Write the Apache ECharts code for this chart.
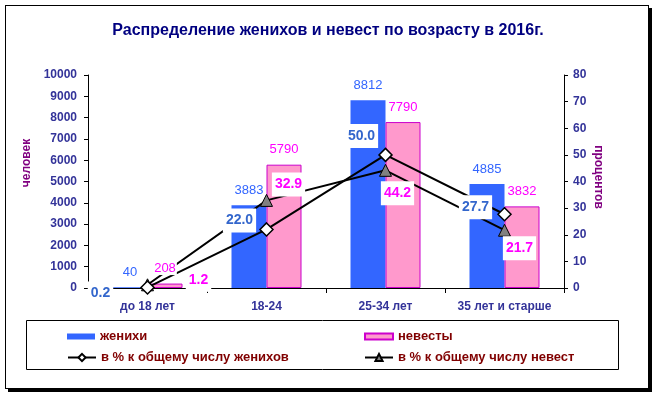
<!DOCTYPE html>
<html>
<head>
<meta charset="utf-8">
<script src="https://cdn.jsdelivr.net/npm/echarts@6/dist/echarts.min.js"></script>
<style>
html,body{margin:0;padding:0;background:#fff;}
#frame{position:absolute;left:5px;top:5px;width:642px;height:382px;border:1px solid #000;box-shadow:3px 3px 0 #000;background:#fff;}
#chart{position:absolute;left:0;top:0;width:656px;height:395px;}
</style>
</head>
<body>
<div id="frame"></div>
<div id="chart"></div>
<script>
var categories = ['до 18 лет', '18-24', '25-34 лет', '35 лет и старше'];
var grooms = [40, 3883, 8812, 4885];
var brides = [208, 5790, 7790, 3832];
var groomsPct = [0.2, 22.0, 50.0, 27.7];
var bridesPct = [1.2, 32.9, 44.2, 21.7];
var leftTicks = {min: 0, max: 10000, interval: 1000};
var rightTicks = {min: 0, max: 80, interval: 10};

// label offsets (style only)
var groomsLabelOffset = [[-47, 6], [-27, -9], [-24, -19], [-29, -7]];
var bridesLabelOffset = [[51, -5], [22, -16], [12, 23], [15, 18]];

var FONT = "'Liberation Sans', Arial, sans-serif";
var chart = echarts.init(document.getElementById('chart'), null, {renderer: 'canvas'});

function pctData(vals, offs, color) {
  return vals.map(function (v, i) {
    return {
      value: v,
      label: {
        show: true, position: 'inside', offset: offs[i],
        formatter: function (p) { return p.value.toFixed(1); },
        color: color, fontWeight: 'bold', fontSize: 14, fontFamily: FONT,
        backgroundColor: '#fff', padding: [6, 3, 4, 3]
      }
    };
  });
}

function barLabelSeries(vals, dx, color) {
  return {
    type: 'scatter', data: vals, z: 10, silent: true,
    symbol: 'rect', symbolSize: 1, itemStyle: {color: 'rgba(0,0,0,0)', opacity: 1},
    label: {show: true, position: 'top', distance: 8, offset: [dx, 0],
      color: color, fontSize: 13, fontFamily: FONT, backgroundColor: '#fff', padding: [0, 1]}
  };
}

var legendCommon = {
  orient: 'vertical', itemWidth: 28, itemGap: 3,
  textStyle: {color: '#800000', fontWeight: 'bold', fontSize: 13, fontFamily: FONT},
  selectedMode: false
};

var option = {
  backgroundColor: 'transparent',
  animation: false,
  title: {
    text: 'Распределение женихов и невест по возрасту в 2016г.',
    left: 'center', top: 18,
    textStyle: {color: '#000080', fontWeight: 'bold', fontSize: 16, fontFamily: FONT}
  },
  grid: {left: 88, right: 92, top: 75, bottom: 107},
  legend: [
    Object.assign({}, legendCommon, {data: [{name: 'женихи', icon: 'rect'}], left: 62, top: 325, itemHeight: 6}),
    Object.assign({}, legendCommon, {data: [{name: 'невесты', icon: 'rect'}], left: 359, top: 325, itemHeight: 6}),
    Object.assign({}, legendCommon, {data: ['в % к общему числу женихов'], left: 62, top: 346, itemHeight: 9}),
    Object.assign({}, legendCommon, {data: ['в % к общему числу невест'], left: 359, top: 346, itemHeight: 9})
  ],
  xAxis: {
    type: 'category', data: categories, boundaryGap: true,
    axisLine: {lineStyle: {color: '#000', width: 1}},
    axisTick: {show: true, length: 5, lineStyle: {color: '#000'}},
    axisLabel: {interval: 0, color: '#333399', fontWeight: 'bold', fontSize: 12, fontFamily: FONT, margin: 13}
  },
  yAxis: [
    {
      type: 'value', min: leftTicks.min, max: leftTicks.max, interval: leftTicks.interval,
      splitLine: {show: false},
      axisLine: {show: true, lineStyle: {color: '#000'}},
      axisTick: {show: true, length: 4, lineStyle: {color: '#000'}},
      axisLabel: {formatter: function (v) { return String(v); }, color: '#333399', fontWeight: 'bold', fontSize: 12, fontFamily: FONT, margin: 11}
    },
    {
      type: 'value', min: rightTicks.min, max: rightTicks.max, interval: rightTicks.interval,
      splitLine: {show: false},
      axisLine: {show: true, lineStyle: {color: '#000'}},
      axisTick: {show: true, length: 4, lineStyle: {color: '#000'}},
      axisLabel: {color: '#333399', fontWeight: 'bold', fontSize: 12, fontFamily: FONT, margin: 9}
    }
  ],
  series: [
    {
      name: 'женихи', type: 'bar', data: grooms, barWidth: 35, barGap: '0%',
      itemStyle: {color: '#3366FF'}
    },
    {
      name: 'невесты', type: 'bar', data: brides, barWidth: 35, barGap: '0%',
      itemStyle: {color: '#FF99CC', borderColor: '#CC00CC', borderWidth: 1}
    },
    {
      name: 'в % к общему числу женихов', type: 'line', yAxisIndex: 1, z: 5,
      data: pctData(groomsPct, groomsLabelOffset, '#3366CC'),
      symbol: 'diamond', symbolSize: 13,
      lineStyle: {color: '#000', width: 2},
      itemStyle: {color: '#fff', borderColor: '#000', borderWidth: 1.5}
    },
    {
      name: 'в % к общему числу невест', type: 'line', yAxisIndex: 1, z: 4,
      data: pctData(bridesPct, bridesLabelOffset, '#FF00FF'),
      symbol: 'triangle', symbolSize: 12,
      lineStyle: {color: '#000', width: 2},
      itemStyle: {color: '#808080', borderColor: '#000', borderWidth: 1}
    },
    barLabelSeries(grooms, -17.5, '#3366FF'),
    barLabelSeries(brides, 17.5, '#FF00FF')
  ],
  graphic: [
    {
      type: 'rect', left: 26, top: 320, silent: true, z: -1,
      shape: {width: 592, height: 49},
      style: {fill: 'transparent', stroke: '#000', lineWidth: 1}
    },
    {
      type: 'text', x: 27, y: 163, rotation: Math.PI / 2,
      style: {text: 'человек', fill: '#800080', font: 'bold 12px ' + FONT, textAlign: 'center', textVerticalAlign: 'middle', align: 'center', verticalAlign: 'middle'}
    },
    {
      type: 'text', x: 598, y: 177, rotation: -Math.PI / 2,
      style: {text: 'процентов', fill: '#800080', font: 'bold 12px ' + FONT, textAlign: 'center', textVerticalAlign: 'middle', align: 'center', verticalAlign: 'middle'}
    }
  ]
};
chart.setOption(option);
</script>
</body>
</html>
